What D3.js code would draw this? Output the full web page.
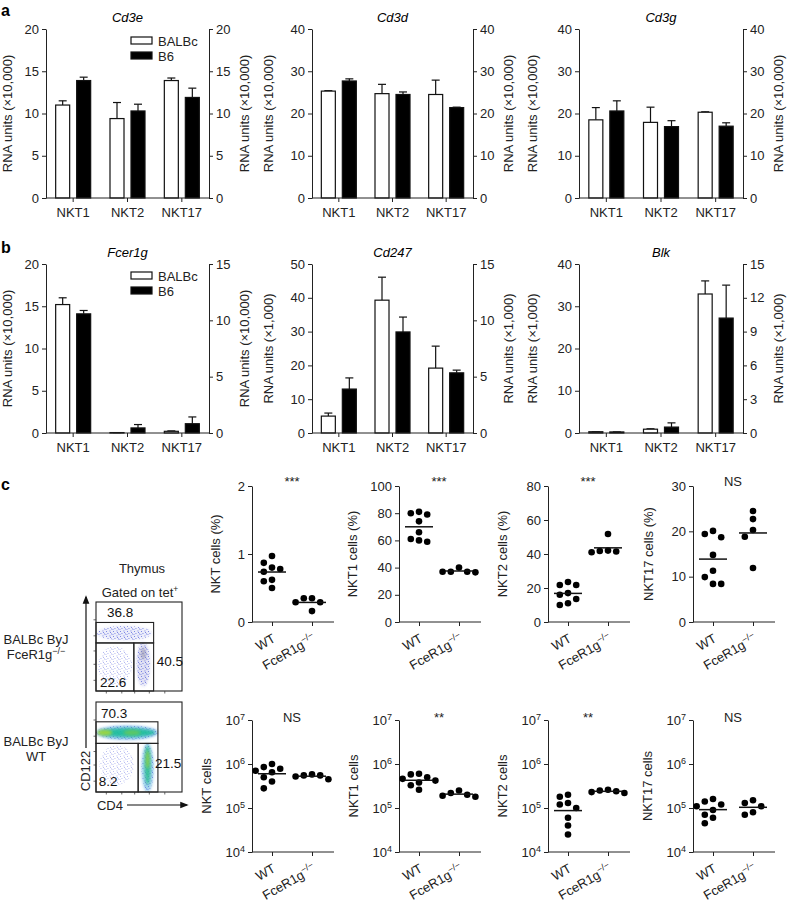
<!DOCTYPE html>
<html>
<head>
<meta charset="utf-8">
<script src="https://cdn.jsdelivr.net/npm/d3@7"></script>
<style>
body { margin: 0; background: #fff; }
svg { font-family: "Liberation Sans", Arial, Helvetica, sans-serif; }
.axis path, .axis line { stroke: #222; }
.axis text { fill: #222; font-size: 13px; }
</style>
</head>
<body>
<svg id="fig" width="788" height="906"></svg>
<script>
/**
 * Data
 */
var groups = ["NKT1", "NKT2", "NKT17"];
var strains = ["BALBc", "B6"];

// panel a
var cd3eBalbc = [11.0, 9.4, 13.9],  cd3eBalbcErr = [0.5, 1.9, 0.3];
var cd3eB6    = [13.9, 10.3, 11.9], cd3eB6Err    = [0.4, 0.8, 1.1];
var cd3dBalbc = [25.3, 24.7, 24.5], cd3dBalbcErr = [0.1, 2.2, 3.4];
var cd3dB6    = [27.7, 24.5, 21.4], cd3dB6Err    = [0.5, 0.6, 0.1];
var cd3gBalbc = [18.5, 17.9, 20.3], cd3gBalbcErr = [2.9, 3.6, 0.1];
var cd3gB6    = [20.6, 16.9, 17.0], cd3gB6Err    = [2.4, 1.4, 0.8];

// panel b
var fcer1gBalbc = [15.2, 0.05, 0.2], fcer1gBalbcErr = [0.8, 0.0, 0.05];
var fcer1gB6    = [14.1, 0.6, 1.1],  fcer1gB6Err    = [0.4, 0.4, 0.8];
var cd247Balbc  = [5.0, 39.3, 19.2], cd247BalbcErr  = [0.9, 6.8, 6.5];
var cd247B6     = [13.0, 29.9, 17.8], cd247B6Err    = [3.3, 4.4, 0.8];
var blkBalbc    = [0.3, 0.9, 32.9],  blkBalbcErr    = [0.0, 0.1, 3.1];
var blkB6       = [0.25, 1.4, 27.2], blkB6Err       = [0.0, 1.0, 7.8];

// axis ticks for bar charts
var ticks20 = [0, 5, 10, 15, 20];
var ticks40 = [0, 10, 20, 30, 40];
var ticks50 = [0, 10, 20, 30, 40, 50];
var ticks15 = [0, 5, 10, 15];
var ticks15b = [0, 3, 6, 9, 12, 15];

// panel c, top row (percent)
var genotypes = ["WT", "KO"];
var nktPctWT  = [0.97, 0.87, 0.80, 0.78, 0.74, 0.62, 0.60, 0.50];
var nktPctKO  = [0.35, 0.35, 0.29, 0.29, 0.16];
var nkt1PctWT = [81, 80, 79, 74, 66, 61, 60, 59];
var nkt1PctKO = [40, 37, 37, 36.5, 37];
var nkt2PctWT = [23.5, 21.8, 21.8, 17, 16, 13.5, 11, 10];
var nkt2PctKO = [51.8, 42, 41.8, 41, 41.5];
var nkt17PctWT = [19.4, 18.7, 20.1, 14.8, 11.3, 9.9, 8.4, 8.4];
var nkt17PctKO = [24.5, 22.7, 20.3, 18.8, 11.9];

// panel c, bottom row (absolute numbers)
var nktNumWT  = [1.0e6, 8.5e5, 7.8e5, 7.0e5, 6.5e5, 5.0e5, 4.0e5, 2.8e5];
var nktNumKO  = [5.8e5, 5.5e5, 5.5e5, 5.2e5, 4.5e5];
var nkt1NumWT = [6.0e5, 5.8e5, 5.0e5, 4.6e5, 4.2e5, 3.8e5, 3.3e5, 2.6e5];
var nkt1NumKO = [2.5e5, 2.2e5, 2.0e5, 1.9e5, 1.8e5];
var nkt2NumWT = [2.0e5, 1.8e5, 1.3e5, 1.2e5, 1.0e5, 6.0e4, 4.0e4, 2.5e4];
var nkt2NumKO = [2.6e5, 2.5e5, 2.4e5, 2.3e5, 2.2e5];
var nkt17NumWT = [1.6e5, 1.4e5, 1.2e5, 1.1e5, 9.0e4, 7.0e4, 6.0e4, 4.5e4];
var nkt17NumKO = [1.5e5, 1.3e5, 1.1e5, 8.0e4, 7.0e4];

var pctTicks2 = [0, 1, 2];
var pctTicks100 = [0, 20, 40, 60, 80, 100];
var pctTicks80 = [0, 20, 40, 60, 80];
var pctTicks30 = [0, 10, 20, 30];
var logTicks = [1e4, 1e5, 1e6, 1e7];

// flow plots: gate frequencies
var koGateFreq = ["36.8", "40.5", "22.6"];
var wtGateFreq = ["70.3", "21.5", "8.2"];

var FS = 13;
var svg = d3.select("#fig");

/**
 * Grouped bar chart with two y axes
 */
function barChart(o) {
    var g = svg.append("g");
    var x = d3.scaleBand().domain(groups).range([o.x0, o.x1]);
    var xs = d3.scaleBand().domain(strains).range([-17.5, 17.5]).paddingInner(0.333);
    var y = d3.scaleLinear().domain([0, o.maxL]).range([o.yBot, o.yTop]);
    var yR = d3.scaleLinear().domain([0, o.maxR]).range([o.yBot, o.yTop]);

    var series = [
        {key: "BALBc", vals: o.a, errs: o.aErr, fill: "#fff"},
        {key: "B6", vals: o.b, errs: o.bErr, fill: "#000"}
    ];
    var bx = function(s, i){ return x(groups[i]) + x.bandwidth()/2 + xs(s.key); };

    series.forEach(function(s){
        var bars = g.append("g");
        // error bars first so the bar covers the lower half
        bars.selectAll("line.err")
            .data(s.vals)
            .enter()
            .append("line")
            .attr("x1", function(d, i){ return bx(s, i) + xs.bandwidth()/2; })
            .attr("x2", function(d, i){ return bx(s, i) + xs.bandwidth()/2; })
            .attr("y1", function(d){ return y(d); })
            .attr("y2", function(d, i){ return y(d + s.errs[i]); })
            .attr("stroke", "#111").attr("stroke-width", 1.2);
        bars.selectAll("line.cap")
            .data(s.vals)
            .enter()
            .append("line")
            .attr("x1", function(d, i){ return bx(s, i) + xs.bandwidth()/2 - 4; })
            .attr("x2", function(d, i){ return bx(s, i) + xs.bandwidth()/2 + 4; })
            .attr("y1", function(d, i){ return y(d + s.errs[i]); })
            .attr("y2", function(d, i){ return y(d + s.errs[i]); })
            .attr("stroke", "#111").attr("stroke-width", 1.2);
        bars.selectAll("rect")
            .data(s.vals)
            .enter()
            .append("rect")
            .attr("x", function(d, i){ return bx(s, i); })
            .attr("y", function(d){ return y(d); })
            .attr("width", xs.bandwidth())
            .attr("height", function(d){ return y(0) - y(d); })
            .attr("fill", s.fill)
            .attr("stroke", "#111")
            .attr("stroke-width", 1.2);
    });

    g.append("g").attr("class", "axis")
        .attr("transform", "translate(" + o.x0 + ",0)")
        .call(d3.axisLeft(y).tickValues(o.ticksL).tickSize(4).tickSizeOuter(0).tickPadding(3));
    g.append("g").attr("class", "axis")
        .attr("transform", "translate(" + o.x1 + ",0)")
        .call(d3.axisRight(yR).tickValues(o.ticksR).tickSize(4).tickSizeOuter(0).tickPadding(3));
    var xa = g.append("g").attr("class", "axis")
        .attr("transform", "translate(0," + o.yBot + ")")
        .call(d3.axisBottom(x).tickSize(4).tickSizeOuter(0).tickPadding(6));
    xa.select(".domain").attr("d", "M" + o.x0 + ",0H" + o.x1);

    g.append("text")
        .attr("x", (o.x0 + o.x1)/2).attr("y", o.yTop - 7)
        .attr("text-anchor", "middle")
        .attr("font-style", "italic").attr("font-size", FS)
        .text(o.title);

    var mid = (o.yTop + o.yBot)/2;
    g.append("text")
        .attr("transform", "translate(" + (o.x0 - o.labOff) + "," + mid + ") rotate(-90)")
        .attr("text-anchor", "middle").attr("font-size", FS).attr("fill", "#222")
        .text("RNA units (" + o.unit + ")");
    g.append("text")
        .attr("transform", "translate(" + (o.x1 + 40) + "," + mid + ") rotate(-90)")
        .attr("text-anchor", "middle").attr("font-size", FS).attr("fill", "#222")
        .text("RNA units (" + o.unit + ")");

    if (o.legend) {
        var lg = g.append("g").attr("transform", "translate(" + (o.x0 + 85) + "," + (o.yTop + 8) + ")");
        series.forEach(function(s, i){
            lg.append("rect").attr("x", 0).attr("y", i*15).attr("width", 21).attr("height", 7)
                .attr("fill", s.fill).attr("stroke", "#111").attr("stroke-width", 1.2);
            lg.append("text").attr("x", 27).attr("y", i*15 + 8.5)
                .attr("font-size", FS).attr("fill", "#222").text(s.key);
        });
    }
}

var rowA = {yTop: 29, yBot: 198};
var rowB = {yTop: 264, yBot: 433};
var cols = [{x0: 46, x1: 209, labOff: 34}, {x0: 312, x1: 473, labOff: 39}, {x0: 579, x1: 743, labOff: 42}];

var barCharts = [
    {title: "Cd3e", row: rowA, col: 0, maxL: 20, ticksL: ticks20, maxR: 20, ticksR: ticks20, unit: "×10,000",
        a: cd3eBalbc, aErr: cd3eBalbcErr, b: cd3eB6, bErr: cd3eB6Err, legend: true},
    {title: "Cd3d", row: rowA, col: 1, maxL: 40, ticksL: ticks40, maxR: 40, ticksR: ticks40, unit: "×10,000",
        a: cd3dBalbc, aErr: cd3dBalbcErr, b: cd3dB6, bErr: cd3dB6Err},
    {title: "Cd3g", row: rowA, col: 2, maxL: 40, ticksL: ticks40, maxR: 40, ticksR: ticks40, unit: "×10,000",
        a: cd3gBalbc, aErr: cd3gBalbcErr, b: cd3gB6, bErr: cd3gB6Err},
    {title: "Fcer1g", row: rowB, col: 0, maxL: 20, ticksL: ticks20, maxR: 15, ticksR: ticks15, unit: "×10,000",
        a: fcer1gBalbc, aErr: fcer1gBalbcErr, b: fcer1gB6, bErr: fcer1gB6Err, legend: true},
    {title: "Cd247", row: rowB, col: 1, maxL: 50, ticksL: ticks50, maxR: 15, ticksR: ticks15, unit: "×1,000",
        a: cd247Balbc, aErr: cd247BalbcErr, b: cd247B6, bErr: cd247B6Err},
    {title: "Blk", row: rowB, col: 2, maxL: 40, ticksL: ticks40, maxR: 15, ticksR: ticks15b, unit: "×1,000",
        a: blkBalbc, aErr: blkBalbcErr, b: blkB6, bErr: blkB6Err}
];

barCharts.forEach(function(c){
    barChart(Object.assign({}, c, c.row, cols[c.col]));
});

/**
 * Dot plots (WT vs FceR1g-/-) with mean line
 */
function swarm(vals, y, cx, r) {
    var d = 2*r + 1.6;
    var pts = vals.map(function(v){ return {v: v, y: y(v)}; })
        .sort(function(a, b){ return a.y - b.y; });
    var placed = [];
    pts.forEach(function(p){
        for (var k = 0; k < 20; k++) {
            var off = k === 0 ? 0 : (k % 2 ? -1 : 1) * Math.ceil(k/2) * d;
            var hit = placed.some(function(q){ return Math.hypot(q.x - (cx + off), q.y - p.y) < 2*r + 0.6; });
            if (!hit) { p.x = cx + off; break; }
        }
        placed.push(p);
    });
    return placed;
}

function koText(sel, size) {
    sel.append("tspan").text("FceR1g");
    sel.append("tspan").attr("dy", -5).attr("font-size", size).text("−/−");
}

function dotPlot(o) {
    var g = svg.append("g");
    var x = d3.scalePoint().domain(genotypes).range([o.x0 + 20, o.x0 + 60]);
    var y = o.log
        ? d3.scaleLog().domain([1e4, 1e7]).range([o.yBot, o.yTop])
        : d3.scaleLinear().domain([0, o.max]).range([o.yBot, o.yTop]);
    var r = 3.3;

    var ya = g.append("g").attr("class", "axis")
        .attr("transform", "translate(" + o.x0 + ",0)")
        .call(d3.axisLeft(y).tickValues(o.ticks).tickSize(4).tickSizeOuter(0).tickPadding(3)
            .tickFormat(o.log ? function(){ return ""; } : function(d){ return String(d); }));
    if (o.log) {
        ya.selectAll(".tick text").each(function(d){
            var t = d3.select(this);
            t.append("tspan").text("10");
            t.append("tspan").attr("dy", -5).attr("font-size", 9).text(Math.round(Math.log10(d)));
        });
    }

    var xa = g.append("g").attr("class", "axis")
        .attr("transform", "translate(0," + o.yBot + ")")
        .call(d3.axisBottom(x).tickSize(4).tickSizeOuter(0).tickFormat(function(){ return ""; }));
    xa.select(".domain").attr("d", "M" + o.x0 + ",0H" + (o.x0 + 82));
    xa.selectAll(".tick text").remove();
    xa.selectAll(".tick").append("text")
        .attr("transform", "translate(4,19) rotate(-30)")
        .attr("text-anchor", "end")
        .attr("fill", "#222")
        .each(function(d){
            if (d === "WT") d3.select(this).text("WT");
            else koText(d3.select(this), 9);
        });

    [{k: "WT", v: o.wt}, {k: "KO", v: o.ko}].forEach(function(s){
        var cx = x(s.k);
        var pts = swarm(s.v, y, cx, r);
        g.selectAll(null).data(pts).enter().append("circle")
            .attr("cx", function(d){ return d.x; })
            .attr("cy", function(d){ return d.y; })
            .attr("r", r).attr("fill", "#000");
        var m = o.log ? Math.pow(10, d3.mean(s.v, function(v){ return Math.log10(v); })) : d3.mean(s.v);
        g.append("line")
            .attr("x1", cx - 14).attr("x2", cx + 14)
            .attr("y1", y(m)).attr("y2", y(m))
            .attr("stroke", "#111").attr("stroke-width", 1.5);
    });

    g.append("text")
        .attr("x", (x("WT") + x("KO"))/2).attr("y", o.yTop + (o.log ? 2 : 0))
        .attr("text-anchor", "middle").attr("font-size", FS).attr("fill", "#222")
        .text(o.sig);

    g.append("text")
        .attr("transform", "translate(" + (o.x0 - o.labOff) + "," + ((o.yTop + o.yBot)/2) + ") rotate(-90)")
        .attr("text-anchor", "middle").attr("font-size", FS).attr("fill", "#222")
        .text(o.label);
}

var dotX = [252, 399, 548, 693];
var topRow = {yTop: 486, yBot: 622};
var botRow = {yTop: 720, yBot: 852};

var dotPlots = [
    {row: topRow, col: 0, max: 2, ticks: pctTicks2, label: "NKT cells (%)", sig: "***", wt: nktPctWT, ko: nktPctKO, labOff: 32},
    {row: topRow, col: 1, max: 100, ticks: pctTicks100, label: "NKT1 cells (%)", sig: "***", wt: nkt1PctWT, ko: nkt1PctKO, labOff: 42},
    {row: topRow, col: 2, max: 80, ticks: pctTicks80, label: "NKT2 cells (%)", sig: "***", wt: nkt2PctWT, ko: nkt2PctKO, labOff: 41},
    {row: topRow, col: 3, max: 30, ticks: pctTicks30, label: "NKT17 cells (%)", sig: "NS", wt: nkt17PctWT, ko: nkt17PctKO, labOff: 40},
    {row: botRow, col: 0, log: true, ticks: logTicks, label: "NKT cells", sig: "NS", wt: nktNumWT, ko: nktNumKO, labOff: 41},
    {row: botRow, col: 1, log: true, ticks: logTicks, label: "NKT1 cells", sig: "**", wt: nkt1NumWT, ko: nkt1NumKO, labOff: 41},
    {row: botRow, col: 2, log: true, ticks: logTicks, label: "NKT2 cells", sig: "**", wt: nkt2NumWT, ko: nkt2NumKO, labOff: 41},
    {row: botRow, col: 3, log: true, ticks: logTicks, label: "NKT17 cells", sig: "NS", wt: nkt17NumWT, ko: nkt17NumKO, labOff: 41}
];

dotPlots.forEach(function(p){
    dotPlot(Object.assign({x0: dotX[p.col]}, p, p.row));
});

/**
 * Flow cytometry plots (CD4 vs CD122)
 */
var defs = svg.append("defs");
defs.append("filter").attr("id", "blur2").attr("x", "-50%").attr("y", "-50%").attr("width", "200%").attr("height", "200%")
    .append("feGaussianBlur").attr("stdDeviation", 1.6);
var pat = defs.append("pattern").attr("id", "speckle").attr("patternUnits", "userSpaceOnUse")
    .attr("width", 7).attr("height", 5);
[[1, 1], [4.5, 0.5], [2.5, 3], [6, 3.5], [0.5, 4.2], [5, 2]].forEach(function(p){
    pat.append("rect").attr("x", p[0]).attr("y", p[1]).attr("width", 0.9).attr("height", 0.9).attr("fill", "#5560dc");
});

// gates in 0-100 units, label position
var koGates = [
    {x0: 0, x1: 67, y0: 54, y1: 77, lx: 28, ly: 88},
    {x0: 44, x1: 67, y0: 0, y1: 54, lx: 86, ly: 33},
    {x0: 0, x1: 44, y0: 0, y1: 54, lx: 20, ly: 10}
];
var wtGates = [
    {x0: 0, x1: 72, y0: 54, y1: 78, lx: 21, ly: 88},
    {x0: 49, x1: 72, y0: 0, y1: 54, lx: 84, ly: 32},
    {x0: 0, x1: 49, y0: 0, y1: 54, lx: 14, ly: 12}
];
// cell populations drawn as density clouds
var koPops = [
    {cx: 33, cy: 65, rx: 32, ry: 8, speckle: 0.9, color: "#7a86e0", op: 0.15},
    {cx: 22, cy: 28, rx: 20, ry: 22, speckle: 0.55},
    {cx: 55, cy: 30, rx: 8, ry: 25, speckle: 0.9, color: "#6a70cc", op: 0.2},
    {cx: 55, cy: 42, rx: 3, ry: 7, color: "#77738f", op: 0.45}
];
var wtPops = [
    {cx: 36, cy: 66, rx: 36, ry: 8, speckle: 0.8, color: "#2f8fe0", op: 0.5},
    {cx: 36, cy: 66, rx: 33, ry: 5, color: "#1dbf9a", op: 0.9},
    {cx: 10, cy: 66, rx: 9, ry: 3.2, color: "#a6d83a", op: 0.9},
    {cx: 42, cy: 66, rx: 10, ry: 3, color: "#6cca55", op: 0.8},
    {cx: 24, cy: 30, rx: 20, ry: 22, speckle: 0.5},
    {cx: 60, cy: 27, rx: 7, ry: 27, speckle: 0.8, color: "#2a9fd8", op: 0.45},
    {cx: 60, cy: 30, rx: 3.5, ry: 22, color: "#28bf8c", op: 0.85},
    {cx: 60, cy: 36, rx: 2, ry: 10, color: "#9fd43c", op: 0.8}
];

function flowPlot(o) {
    var g = svg.append("g");
    var xs = d3.scaleLinear().domain([0, 100]).range([96, 182]);
    var ys = d3.scaleLinear().domain([0, 100]).range([o.y1, o.y0]);
    var clipId = "clip" + o.y0;
    defs.append("clipPath").attr("id", clipId).append("rect")
        .attr("x", xs(0)).attr("y", ys(100)).attr("width", xs(100) - xs(0)).attr("height", ys(0) - ys(100));
    var pg = g.append("g").attr("clip-path", "url(#" + clipId + ")");

    o.pops.forEach(function(p){
        if (p.color) {
            pg.append("ellipse")
                .attr("cx", xs(p.cx)).attr("cy", ys(p.cy))
                .attr("rx", xs(p.rx) - xs(0)).attr("ry", ys(0) - ys(p.ry))
                .attr("fill", p.color).attr("opacity", p.op)
                .attr("filter", "url(#blur2)");
        }
        if (p.speckle) {
            pg.append("ellipse")
                .attr("cx", xs(p.cx)).attr("cy", ys(p.cy))
                .attr("rx", xs(p.rx) - xs(0)).attr("ry", ys(0) - ys(p.ry))
                .attr("fill", "url(#speckle)").attr("opacity", p.speckle);
        }
    });

    g.append("rect")
        .attr("x", xs(0)).attr("y", ys(100)).attr("width", xs(100) - xs(0)).attr("height", ys(0) - ys(100))
        .attr("fill", "none").attr("stroke", "#222").attr("stroke-width", 1.1);

    // minor ticks
    var tk = [12, 30, 45, 62, 80];
    g.selectAll(null).data(tk).enter().append("line")
        .attr("x1", xs(0)).attr("x2", xs(0) - 2.5)
        .attr("y1", function(d){ return ys(d); }).attr("y2", function(d){ return ys(d); })
        .attr("stroke", "#444").attr("stroke-width", 0.8);
    g.selectAll(null).data(tk).enter().append("line")
        .attr("y1", ys(0)).attr("y2", ys(0) + 2.5)
        .attr("x1", function(d){ return xs(d); }).attr("x2", function(d){ return xs(d); })
        .attr("stroke", "#444").attr("stroke-width", 0.8);

    o.gates.forEach(function(gt, i){
        g.append("rect")
            .attr("x", xs(gt.x0)).attr("y", ys(gt.y1))
            .attr("width", xs(gt.x1) - xs(gt.x0)).attr("height", ys(gt.y0) - ys(gt.y1))
            .attr("fill", "none").attr("stroke", "#222").attr("stroke-width", 1.1);
        g.append("text")
            .attr("x", xs(gt.lx)).attr("y", ys(gt.ly) + 4.8)
            .attr("text-anchor", "middle").attr("font-size", 13.5).attr("fill", "#111")
            .text(o.freq[i]);
    });
}

flowPlot({y0: 602, y1: 691, gates: koGates, freq: koGateFreq, pops: koPops});
flowPlot({y0: 702, y1: 792, gates: wtGates, freq: wtGateFreq, pops: wtPops});

// arrows and flow labels
defs.append("marker").attr("id", "arrow").attr("viewBox", "0 0 10 10")
    .attr("refX", 8).attr("refY", 5).attr("markerWidth", 7).attr("markerHeight", 7)
    .attr("orient", "auto-start-reverse")
    .append("path").attr("d", "M0,1L10,5L0,9Z").attr("fill", "#111");
svg.append("line").attr("x1", 86).attr("x2", 86).attr("y1", 748).attr("y2", 597)
    .attr("stroke", "#111").attr("stroke-width", 1.2).attr("marker-end", "url(#arrow)");
svg.append("line").attr("x1", 127).attr("x2", 187).attr("y1", 805).attr("y2", 805)
    .attr("stroke", "#111").attr("stroke-width", 1.2).attr("marker-end", "url(#arrow)");
svg.append("text").attr("transform", "translate(90,771) rotate(-90)")
    .attr("text-anchor", "middle").attr("font-size", FS).attr("fill", "#222").text("CD122");
svg.append("text").attr("x", 110).attr("y", 810)
    .attr("text-anchor", "middle").attr("font-size", FS).attr("fill", "#222").text("CD4");

svg.append("text").attr("x", 142).attr("y", 573)
    .attr("text-anchor", "middle").attr("font-size", FS).attr("fill", "#222").text("Thymus");
var gated = svg.append("text").attr("x", 140).attr("y", 597)
    .attr("text-anchor", "middle").attr("font-size", FS).attr("fill", "#222");
gated.append("tspan").text("Gated on tet");
gated.append("tspan").attr("dy", -5).attr("font-size", 8.5).text("+");

svg.append("text").attr("x", 36).attr("y", 644)
    .attr("text-anchor", "middle").attr("font-size", FS).attr("fill", "#222").text("BALBc ByJ");
var koLab = svg.append("text").attr("x", 36).attr("y", 659)
    .attr("text-anchor", "middle").attr("font-size", FS).attr("fill", "#222");
koText(koLab, 9);
svg.append("text").attr("x", 36).attr("y", 746)
    .attr("text-anchor", "middle").attr("font-size", FS).attr("fill", "#222").text("BALBc ByJ");
svg.append("text").attr("x", 36).attr("y", 761)
    .attr("text-anchor", "middle").attr("font-size", FS).attr("fill", "#222").text("WT");

// panel letters
[["a", 16], ["b", 253], ["c", 490]].forEach(function(p){
    svg.append("text").attr("x", 1).attr("y", p[1])
        .attr("font-size", 16).attr("font-weight", "bold").attr("fill", "#000").text(p[0]);
});
</script>
</body>
</html>
